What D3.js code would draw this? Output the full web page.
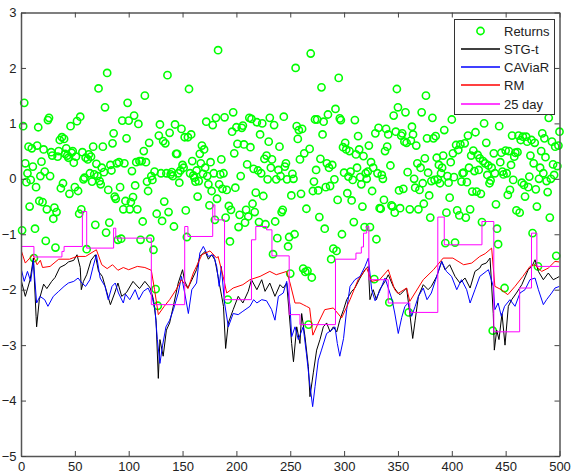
<!DOCTYPE html>
<html><head><meta charset="utf-8">
<script src="https://cdn.jsdelivr.net/npm/d3@7"></script>
<style>body{margin:0;background:#fff}svg{display:block}</style>
</head><body><svg id="c" width="571" height="474"></svg>
<script>
// ---- data ----
const returns = [
-0.93,0.95,1.37,0.28,-0.06,0.1,0.58,-0.5,-0.02,0.55,
0.22,-1.43,-0.9,-0.15,0.6,0.93,-0.4,0.05,0.31,-0.42,
0.53,0.13,-1.12,-0.55,1.06,1.1,0.05,0.48,0.42,-0.72,
-0.52,-1.24,-0.6,0.4,0.5,0.7,-0.17,0.75,-0.08,0.72,
0.45,0.55,0.42,0.38,-0.27,0.95,0.47,0.5,0.29,-0.15,
0.4,1.04,-0.22,-0.63,1.12,-0.55,0.48,-0.01,0.02,0.38,
-1.27,0.35,0.44,0.1,0.4,-0.05,0.58,0.08,-0.83,0.27,
0.05,1.63,-0.04,-0.1,0.2,0.58,0.12,1.29,-0.97,1.91,
-0.2,-0.79,0.25,0.15,0.64,0.82,-0.32,-0.36,0.28,-1.1,
0.3,-0.15,-1.08,1.05,-0.55,0.28,-0.4,0.73,1.37,1.05,
-0.55,-0.42,0.14,-0.33,1.14,-0.12,0.3,-0.55,0.99,0.32,
-1.1,0.32,-0.77,0.5,1.5,0.3,-0.05,-0.22,0.65,-1.08,
0.05,-0.02,-1.28,0.13,-1.99,-0.63,-2.29,0.78,0.98,0.1,
-0.76,0.68,-0.41,0.64,0.1,1.87,-0.6,0.83,0.08,0.12,
0.05,-0.86,0.98,0.45,0.45,0.1,-0.07,0.15,0.9,0.25,
0.2,0.75,-0.57,-1.05,0.75,1.62,0.1,0.8,0.32,0.06,
0.02,-0.05,0.15,-0.32,-0.04,0.45,0.28,0.6,0.09,0.53,
0.2,1.03,0.05,-0.1,-0.48,0.3,-0.22,0.97,0.1,-0.74,
1.1,-0.36,2.32,-0.1,0.08,0.35,-0.18,0.1,1.11,-0.7,
-0.2,-2.18,-0.49,-1.13,-0.56,0.85,1.2,0.46,-0.16,0.93,
0.63,-0.87,-0.65,0.05,0.92,0.96,0.62,-0.79,-0.56,0.26,
-0.68,1.1,0.57,1.08,-0.45,0.18,-0.6,-0.25,1.02,0.15,
-0.78,0.8,0.1,1.0,-0.31,0.36,-0.82,0.42,-0.01,0.67,
1.1,0.2,0.35,-1.36,0.97,-0.77,-0.01,-1.07,0.16,0.58,
0.05,-0.6,-0.56,1.12,0.22,0.28,-0.01,-1.22,-1.05,-1.71,
-0.3,0.09,0.0,-1.0,2.0,0.95,0.72,0.88,0.35,-0.27,
0.9,-1.62,0.46,-1.68,-0.54,-1.66,-2.63,0.54,2.26,-1.78,
-0.22,-0.05,1.07,0.16,1.07,-0.21,-0.69,0.36,1.65,0.8,
1.03,-0.9,-0.15,0.28,1.16,0.2,-0.13,-1.45,0.25,-1.26,
-0.01,1.26,-1.3,-0.38,1.82,1.09,1.06,-1.0,0.57,0.11,
0.65,0.53,-0.26,0.04,0.5,0.13,-0.39,-0.02,-0.78,1.06,
0.44,0.2,0.77,0.53,0.03,-0.1,-0.5,0.41,-0.87,0.1,
0.0,0.13,0.6,-0.87,0.3,-0.22,0.2,-1.81,0.82,-1.09,
0.1,0.92,-0.53,-0.54,0.07,0.0,-0.38,0.5,0.9,0.58,
0.8,-2.23,0.24,-0.48,-0.5,1.14,-0.61,0.85,1.62,1.29,
-0.21,-0.53,0.78,0.82,-0.18,0.67,1.2,0.65,0.12,-2.41,
-0.55,0.69,0.94,0.8,0.0,-0.16,0.6,0.28,-0.55,-0.2,
0.2,1.2,-0.08,-0.45,0.37,1.5,0.73,0.11,-0.3,-0.7,
-0.04,1.1,0.73,-0.02,0.77,0.38,-0.01,0.25,-0.08,0.1,
0.2,0.42,0.88,-1.16,-0.61,0.05,-0.07,-0.34,0.3,1.07,
0.46,0.03,-1.15,0.61,-0.57,0.52,-0.66,0.62,-0.05,0.1,
0.11,0.64,-0.7,-0.06,0.78,0.2,-0.55,0.42,-0.23,0.51,
0.14,0.84,-0.23,0.43,0.16,0.37,-0.27,-0.78,0.32,1.0,
0.28,0.65,0.07,0.24,-0.08,-0.03,0.2,-2.74,0.46,0.1,
-0.46,-0.9,-1.18,0.95,0.3,0.47,0.13,0.08,-1.97,0.51,
0.1,-0.29,0.5,-0.2,0.25,0.78,-0.02,0.4,0.47,-0.57,
0.48,0.78,-0.61,0.7,-0.07,0.76,-0.11,-0.32,0.76,0.67,
-0.15,0.04,0.42,0.7,-0.98,0.28,0.65,-0.19,-0.5,-1.58,
0.0,0.2,0.5,0.82,0.1,0.73,0.39,-0.04,-0.24,1.1,
-0.7,0.0,0.67,0.26,0.07,0.58,-1.39,0.23,0.6,0.85
];

// STG-t readings (day, value)
const stgDays = [0,4,8.5,11.5,14,14.5,17,21,24,28.5,31.6,36,41,44,49,52,55,56,58,61,65,69,72,75.5,79,83,87,90,93.5,98,104,110,115,120,123,125.4,127.5,129,132,135,138,141.4,146,150,152,155,158,163,166,171,174,177,180,183,188,190,192.5,197,201.7,206,211,214,219,223.5,226.6,231,235.8,240.5,243.5,246.7,251.3,253,256,259,260.6,263.7,266.8,268.3,271.4,274.5,277.6,280.7,283.8,287,290,293.2,296,299.5,302.4,307,310,314.8,319.4,322.5,324,327,330,333,338,341,345.6,350,352,358,361,363.7,366,369,373.5,378,381,386,390.6,393.7,398,403,407.6,412.3,417,421.5,426,427.7,432,435.5,438.5,439.5,441.7,443.8,446.6,449.4,452.5,455.6,460,465,471,474.4,477.3,480.4,485,489.6,494.2,497.3,500];
const stgVals = [-1.82,-2.12,-1.82,-1.43,-2.48,-2.67,-2.18,-1.9,-1.98,-1.85,-1.78,-1.6,-1.55,-1.5,-1.47,-1.37,-1.6,-2.0,-1.85,-1.73,-1.47,-1.37,-1.67,-1.76,-2.0,-2.27,-2.06,-1.88,-2.12,-2.05,-1.85,-1.98,-1.85,-1.97,-2.18,-2.55,-3.6,-2.9,-3.2,-2.73,-2.6,-2.3,-1.88,-1.64,-1.85,-1.97,-1.85,-1.64,-1.4,-1.31,-1.45,-1.37,-1.46,-1.76,-2.3,-3.06,-2.6,-2.36,-2.12,-2.24,-2.03,-1.82,-2.0,-1.82,-2.03,-1.88,-2.12,-1.91,-1.97,-1.88,-2.97,-3.3,-2.67,-2.97,-2.43,-2.85,-3.39,-3.93,-3.5,-3.09,-2.9,-2.67,-2.6,-2.76,-2.67,-2.76,-2.55,-2.36,-2.18,-2.03,-1.97,-1.79,-1.64,-1.58,-2.18,-2.0,-2.18,-2.0,-1.85,-1.73,-1.94,-2.06,-2.09,-1.97,-2.43,-2.88,-2.55,-2.12,-1.91,-2.0,-1.94,-1.76,-1.49,-1.64,-1.55,-1.76,-1.88,-1.79,-1.97,-1.67,-1.61,-1.55,-1.52,-1.43,-2.43,-3.09,-2.73,-2.9,-2.43,-3.0,-2.3,-2.18,-2.06,-1.91,-1.64,-1.58,-1.46,-1.67,-1.82,-1.7,-1.82,-1.79,-1.76];

// CAViaR readings
const cavDays = [0,3,6,9,11.5,14.5,17.6,22,25,30,35,40,44,49,53,56.5,60,64,67,70,73.5,78,81,84.5,87.5,90.5,95,97,101,106,109.4,113.6,118,121.6,124.4,126.6,129,131.5,134.6,138,141.5,146,149,152,155.4,158.6,163,166,169.3,174,178.6,181.7,184,186,189,192.5,197,201.7,206,212.6,216,219,223.5,228,232.7,235.8,239,243.5,246.7,249.8,251.3,254.4,257.5,262,265,267.7,270.8,273,276,279,283.8,288.4,291.5,293.7,296,299.5,302.4,305.5,310,314.8,319.4,322.5,325.6,328.8,333,338,341,344.5,347,350.3,353.5,356.5,359.6,362.7,366,369,373.5,377,381,386,390.6,395,399.8,404.6,409,413.8,417,421.5,426,432,434,438.5,440,443,446,449,454,458.7,463.3,468,472.6,477.3,480.4,485,488,492.7,495.8,500];
const cavVals = [-1.61,-1.85,-1.67,-1.85,-1.47,-2.24,-2.12,-2.18,-2.3,-2.12,-2.03,-1.94,-1.88,-1.85,-1.79,-1.88,-1.94,-1.82,-1.58,-1.37,-1.79,-1.94,-2.18,-1.94,-1.88,-2.06,-2.24,-2.08,-2.18,-2.0,-2.18,-2.03,-1.97,-2.12,-2.36,-2.9,-3.33,-3.0,-2.67,-2.55,-2.36,-2.06,-1.76,-2.06,-2.43,-2.0,-1.88,-1.34,-1.22,-1.4,-1.37,-1.58,-1.94,-1.58,-2.24,-2.67,-2.43,-2.45,-2.39,-2.3,-2.18,-2.24,-2.18,-2.2,-2.36,-2.55,-2.12,-2.06,-1.85,-2.3,-2.85,-2.67,-2.9,-2.67,-3.15,-3.63,-4.11,-3.75,-3.27,-3.09,-2.79,-2.73,-2.67,-2.97,-3.2,-2.88,-2.36,-1.94,-1.82,-1.76,-1.58,-1.43,-2.0,-2.2,-2.03,-1.79,-1.97,-2.18,-2.42,-2.79,-2.5,-2.3,-2.24,-2.48,-2.3,-2.12,-1.97,-2.18,-2.06,-1.76,-1.49,-1.67,-1.76,-2.0,-1.82,-2.0,-2.24,-2.0,-1.76,-1.67,-1.64,-1.94,-2.36,-2.24,-2.48,-2.3,-2.18,-2.3,-2.06,-2.0,-1.82,-1.79,-2.0,-2.27,-2.18,-2.06,-1.97,-1.94];

// RM readings
const rmDays = [0,4,11,15,18,20,27,35,45,52,60,70,75,80,85,90,95,100,108,115,121,124,127.5,133,138,144,149,155,160,168,175.5,181.7,183,187.7,191,197,206,212.6,222,231,237,246.7,249.8,254.4,259,262,265,268,271,276,282,290,297.7,305.5,313,321,325.6,333,341,347,350,358,361,373.5,383,392,401,411,418.5,426,431,437,440,446,452,458.7,466,472.6,477,483.5,489.6,495.8,500];
const rmVals = [-1.28,-1.52,-1.37,-1.55,-1.47,-1.6,-1.58,-1.45,-1.45,-1.4,-1.4,-1.28,-1.55,-1.62,-1.55,-1.65,-1.6,-1.64,-1.58,-1.6,-1.65,-2.0,-2.45,-2.3,-2.18,-2.0,-1.82,-1.98,-1.7,-1.37,-1.3,-1.43,-1.4,-1.76,-2.06,-1.97,-1.91,-1.82,-1.76,-1.67,-1.73,-1.67,-1.88,-2.24,-2.24,-2.27,-2.3,-2.33,-2.82,-2.6,-2.36,-2.33,-2.51,-2.18,-1.82,-1.61,-1.85,-1.82,-1.64,-2.0,-2.07,-1.97,-2.21,-1.82,-1.64,-1.43,-1.43,-1.55,-1.52,-1.4,-1.35,-1.25,-1.94,-2.0,-2.09,-1.94,-1.76,-1.58,-1.55,-1.67,-1.61,-1.49,-1.5];

// 25-day: step function, value holds from each start day
const stepDays = [0,12,38,40,57,61,86,88,121,152,155,178,180,189,214,218,228,233,249,259,292,311,316,318,321,323,341,361,387,393,428,439,463,474,479,500];
const stepValues = [-1.22,-1.41,-1.31,-1.22,-0.59,-1.25,-0.89,-1.07,-2.27,-0.86,-1.04,-0.47,-0.74,-2.18,-1.1,-0.86,-0.92,-1.39,-2.45,-2.63,-1.45,-1.34,-1.23,-0.98,-0.86,-1.82,-2.24,-2.41,-0.69,-1.19,-0.77,-2.76,-1.97,-0.98,-1.58,-1.58];

const xTicks = [0,50,100,150,200,250,300,350,400,450,500];
const yTicks = [-5,-4,-3,-2,-1,0,1,2,3];
const legendLabels = ["Returns","STG-t","CAViaR","RM","25 day"];
const colors = {ret:"#00ff00", stg:"#000000", cav:"#0000ff", rm:"#ff0000", day25:"#ff00ff"};

// ---- chart ----
const svg = d3.select("#c");
const L=21, R=559.5, T=12.5, B=456;
const x = d3.scaleLinear().domain([0,500]).range([L,R]);
const y = d3.scaleLinear().domain([-5,3]).range([B,T]);
const font = "Arial, 'Liberation Sans', Helvetica, sans-serif";

svg.append("rect").attr("x",L).attr("y",T).attr("width",R-L).attr("height",B-T).attr("fill","#fff");
svg.append("defs").append("clipPath").attr("id","clip")
  .append("rect").attr("x",L).attr("y",T).attr("width",R-L).attr("height",B-T);

// returns circles
svg.append("g").selectAll("circle").data(returns).join("circle")
  .attr("cx",(d,i)=>x(i+1)).attr("cy",d=>y(d)).attr("r",3.6)
  .attr("fill","none").attr("stroke",colors.ret).attr("stroke-width",1.6);

const lg = svg.append("g").attr("clip-path","url(#clip)");
const line = d3.line().x(d=>x(d[0])).y(d=>y(d[1]));
const pairs = (ds,vs)=>ds.map((d,i)=>[d,vs[i]]);
lg.append("path").attr("d",line(pairs(stgDays,stgVals))).attr("fill","none").attr("stroke",colors.stg).attr("stroke-width",1);
lg.append("path").attr("d",line(pairs(cavDays,cavVals))).attr("fill","none").attr("stroke",colors.cav).attr("stroke-width",1);
lg.append("path").attr("d",line(pairs(rmDays,rmVals))).attr("fill","none").attr("stroke",colors.rm).attr("stroke-width",1);
const stepLine = d3.line().x(d=>x(d[0])).y(d=>y(d[1])).curve(d3.curveStepAfter);
lg.append("path").attr("d",stepLine(pairs(stepDays,stepValues)))
  .attr("fill","none").attr("stroke",colors.day25).attr("stroke-width",1);

// axes
const ax = (g)=>{g.selectAll("text").attr("font-family",font).attr("font-size",13).attr("fill","#222");
  g.select(".domain").attr("stroke","#555").attr("stroke-width",1.5);
  g.selectAll(".tick line").attr("stroke","#444");};
svg.append("g").attr("transform",`translate(0,${B})`)
  .call(d3.axisBottom(x).tickValues(xTicks).tickSizeInner(-5).tickSizeOuter(0).tickPadding(6)).call(ax);
svg.append("g").attr("transform",`translate(${L},0)`)
  .call(d3.axisLeft(y).tickValues(yTicks).tickSizeInner(-5).tickSizeOuter(0).tickPadding(4.5)).call(ax);
svg.append("g").attr("transform",`translate(0,${T})`)
  .call(d3.axisTop(x).tickValues(xTicks).tickSizeInner(-5).tickSizeOuter(0).tickFormat("")).call(ax);
svg.append("g").attr("transform",`translate(${R},0)`)
  .call(d3.axisRight(y).tickValues(yTicks).tickSizeInner(-5).tickSizeOuter(0).tickFormat("")).call(ax);

// legend
const leg = svg.append("g");
leg.append("rect").attr("x",454.5).attr("y",19.5).attr("width",100).attr("height",95)
  .attr("fill","#fff").attr("stroke","#333").attr("stroke-width",1);
const legColors = [colors.ret,colors.stg,colors.cav,colors.rm,colors.day25];
const legY = [31,49,67,85,104];
legendLabels.forEach((t,k)=>{
  const yy = legY[k];
  if(k===0){
    leg.append("circle").attr("cx",480.5).attr("cy",yy).attr("r",3.6).attr("fill","none")
      .style("stroke",legColors[k]).attr("stroke-width",1.6);
  } else {
    leg.append("line").attr("x1",461).attr("x2",500).attr("y1",yy).attr("y2",yy)
      .style("stroke",legColors[k]).style("stroke-width","1.5px");
  }
  leg.append("text").attr("x",504).attr("y",yy).attr("dy","0.35em")
    .attr("font-family",font).attr("font-size",13).attr("fill","#222").text(t);
});
</script></body></html>
